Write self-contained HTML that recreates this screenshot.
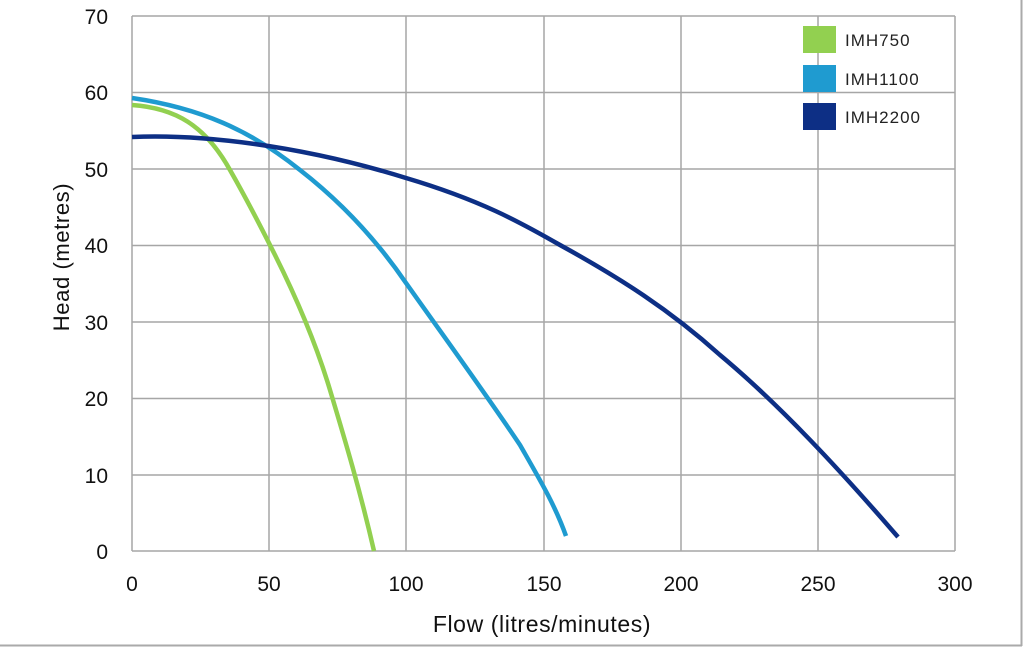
<!DOCTYPE html>
<html><head><meta charset="utf-8"><style>
html,body{margin:0;padding:0;background:#fff;}
svg{display:block;font-family:"Liberation Sans",sans-serif;}
</style></head><body>
<svg width="1024" height="647" viewBox="0 0 1024 647">
<rect width="1024" height="647" fill="#fff"/>
<line x1="0" y1="645.5" x2="1022" y2="645.5" stroke="#aaa" stroke-width="2"/>
<line x1="1021.5" y1="0" x2="1021.5" y2="646" stroke="#aaa" stroke-width="2"/>
<g stroke="#a6a6a6" stroke-width="1.5" fill="none">
<line x1="132" y1="16" x2="955" y2="16"/>
<line x1="132" y1="92.5" x2="955" y2="92.5"/>
<line x1="132" y1="169" x2="955" y2="169"/>
<line x1="132" y1="245.5" x2="955" y2="245.5"/>
<line x1="132" y1="322" x2="955" y2="322"/>
<line x1="132" y1="398.5" x2="955" y2="398.5"/>
<line x1="132" y1="475" x2="955" y2="475"/>
<line x1="132" y1="551" x2="955" y2="551"/>
<line x1="132" y1="16" x2="132" y2="551"/>
<line x1="269" y1="16" x2="269" y2="551"/>
<line x1="406" y1="16" x2="406" y2="551"/>
<line x1="544" y1="16" x2="544" y2="551"/>
<line x1="681" y1="16" x2="681" y2="551"/>
<line x1="818" y1="16" x2="818" y2="551"/>
<line x1="955" y1="16" x2="955" y2="551"/>
</g>
<g font-size="21" fill="#111" text-anchor="end">
<text x="108" y="24">70</text><text x="108" y="100">60</text><text x="108" y="177">50</text>
<text x="108" y="253">40</text><text x="108" y="330">30</text><text x="108" y="406">20</text>
<text x="108" y="483">10</text><text x="108" y="559">0</text>
</g>
<g font-size="21" fill="#111" text-anchor="middle">
<text x="132" y="591">0</text><text x="269" y="591">50</text><text x="406" y="591">100</text>
<text x="544" y="591">150</text><text x="681" y="591">200</text><text x="818" y="591">250</text><text x="955" y="591">300</text>
<text x="542" y="632" font-size="23" letter-spacing="0.6">Flow (litres/minutes)</text>
<text transform="translate(69,257) rotate(-90)" font-size="22" letter-spacing="0.6">Head (metres)</text>
</g>
<g fill="none" stroke-width="4.5" stroke-linecap="butt">
<path d="M132,105 C175,108 205,125 230,170 C250,205 265,235 275,255 C295,295 315,340 330,390 C345,440 360,490 374,551" stroke="#92d050"/>
<path d="M132,98 C200,108 250,130 300,170 C345,205 380,245 406,283 C450,345 490,400 520,445 C540,480 555,505 566,536" stroke="#1f9bd0"/>
<path d="M132,137 C200,134 300,145 406,178 C480,200 520,222 560,245 C620,278 670,310 720,355 C780,405 840,470 898,537" stroke="#0d2f85"/>
</g>
<rect x="803" y="26" width="33" height="27" fill="#92d050"/>
<rect x="803" y="65" width="33" height="27" fill="#1f9bd0"/>
<rect x="803" y="103" width="33" height="27" fill="#0d2f85"/>
<g font-size="17" fill="#222" letter-spacing="1">
<text x="845" y="46">IMH750</text>
<text x="845" y="85">IMH1100</text>
<text x="845" y="123">IMH2200</text>
</g>
</svg>
</body></html>
